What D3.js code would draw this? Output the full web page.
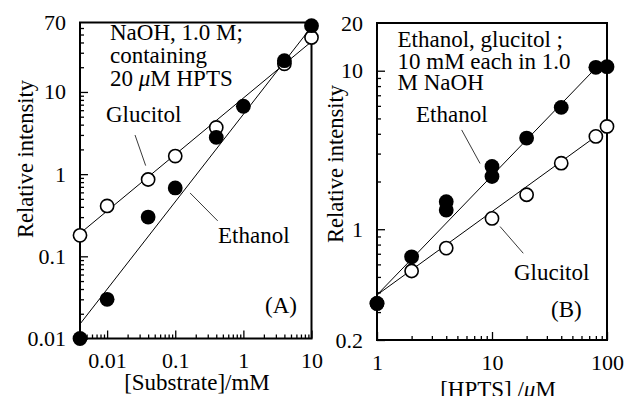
<!DOCTYPE html>
<html>
<head>
<meta charset="utf-8">
<script src="https://cdn.jsdelivr.net/npm/d3@7"></script>
<style>
  body { margin: 0; background: #fff; }
  svg { display: block; font-family: "Liberation Serif", "Times New Roman", serif; }
  .tick text { font-size: 22px; fill: #000; font-family: "Liberation Serif", "Times New Roman", serif; }
  .tick line { stroke: #000; stroke-width: 1.3; }
</style>
</head>
<body>
<svg id="chart" width="625" height="396"></svg>
<script>
// ---- data: panel A, intensity vs substrate (mM) ----
const aEthanolX = [0.004, 0.01, 0.04, 0.1, 0.4, 1, 4, 10];
const aEthanolY = [0.01, 0.03, 0.30, 0.68, 2.8, 6.7, 24, 64];
const aGlucitolX = [0.004, 0.01, 0.04, 0.1, 0.4, 4, 10];
const aGlucitolY = [0.18, 0.41, 0.86, 1.66, 3.7, 22, 46];
// fitted lines (end points)
const aEthanolFit = [[0.004, 0.015], [10, 62]];
const aGlucitolFit = [[0.004, 0.19], [10, 41]];

// ---- data: panel B, intensity vs HPTS (uM) ----
const bEthanolX = [1, 2, 4, 4, 10, 10, 20, 40, 80, 100];
const bEthanolY = [0.34, 0.67, 1.49, 1.32, 2.49, 2.15, 3.76, 5.87, 10.5, 10.6];
const bGlucitolX = [1, 2, 4, 10, 20, 40, 80, 100];
const bGlucitolY = [0.34, 0.545, 0.76, 1.17, 1.65, 2.61, 3.85, 4.45];
const bEthanolFit = [[1, 0.385], [80, 10.4]];
const bGlucitolFit = [[1, 0.385], [80, 3.85]];

// tick labels
const aXTicks = [0.01, 0.1, 1, 10];
const aYTicks = [0.01, 0.1, 1, 10, 70];
const bXTicks = [1, 10, 100];
const bYTicks = [0.2, 1, 10, 20];

// leader lines, in data units
const aGlucitolLeader = [[0.0257, 2.99], [0.0368, 1.27]];
const aEthanolLeader = [[0.165, 0.59], [0.42, 0.27]];
const bEthanolLeader = [[5.45, 4.23], [7.87, 2.60]];
const bGlucitolLeader = [[11.74, 1.04], [18.7, 0.705]];

const svg = d3.select("#chart");
const zip = (xs, ys) => xs.map((x, i) => [x, ys[i]]);

// minor ticks for a log domain: every 1..9 multiple of each decade
function minorTicks(domain, major) {
  const out = [];
  for (let e = Math.floor(Math.log10(domain[0])); e <= Math.ceil(Math.log10(domain[1])); e++) {
    for (let m = 1; m < 10; m++) {
      const v = m * Math.pow(10, e);
      if (v >= domain[0] * 0.999 && v <= domain[1] * 1.001 && !major.some(t => Math.abs(t - v) / v < 1e-6)) out.push(v);
    }
  }
  return out;
}

function fmt(v) { return String(+v.toPrecision(3)); }

// strip the axis defaults we don't want
function clean(s) {
  s.attr("font-family", null).attr("font-size", null);
  s.select(".domain").remove();
}

function drawPanel(p) {
  const g = svg.append("g");
  const x = p.x, y = p.y;
  const [x0, x1] = x.range(), [y0, y1] = y.range();

  // minor ticks
  g.append("g").attr("transform", `translate(0,${y0})`)
    .call(d3.axisBottom(x).tickValues(minorTicks(x.domain(), p.xTicks)).tickSizeInner(-4).tickSizeOuter(0).tickFormat(""))
    .call(clean);
  g.append("g").attr("transform", `translate(${x0},0)`)
    .call(d3.axisLeft(y).tickValues(minorTicks(y.domain(), p.yTicks)).tickSizeInner(-4).tickSizeOuter(0).tickFormat(""))
    .call(clean);
  // major ticks + labels
  g.append("g").attr("transform", `translate(0,${y0})`)
    .call(d3.axisBottom(x).tickValues(p.xTicks).tickSizeInner(-8).tickSizeOuter(0).tickPadding(14).tickFormat(fmt))
    .call(clean);
  g.append("g").attr("transform", `translate(${x0},0)`)
    .call(d3.axisLeft(y).tickValues(p.yTicks).tickSizeInner(-8).tickSizeOuter(0).tickPadding(14).tickFormat(fmt))
    .call(clean)
    .call(s => s.selectAll(".tick line").filter(d => d === y.domain()[1]).remove());

  // frame
  g.append("rect").attr("x", x0).attr("y", y1).attr("width", x1 - x0).attr("height", y0 - y1)
    .attr("fill", "none").attr("stroke", "#000").attr("stroke-width", 2);

  const line = d3.line().x(d => x(d[0])).y(d => y(d[1]));
  g.selectAll(".fit").data(p.fits).join("path").attr("class", "fit")
    .attr("d", line).attr("fill", "none").attr("stroke", "#000").attr("stroke-width", 1);
  g.selectAll(".leader").data(p.leaders).join("path").attr("class", "leader")
    .attr("d", line).attr("fill", "none").attr("stroke", "#222").attr("stroke-width", 0.9);

  g.selectAll(".open").data(p.open).join("circle").attr("class", "open")
    .attr("cx", d => x(d[0])).attr("cy", d => y(d[1])).attr("r", 6.6)
    .attr("fill", "#fff").attr("stroke", "#000").attr("stroke-width", 1.6);
  g.selectAll(".filled").data(p.filled).join("circle").attr("class", "filled")
    .attr("cx", d => x(d[0])).attr("cy", d => y(d[1])).attr("r", 7.4).attr("fill", "#000");

  // texts
  p.texts.forEach(t => {
    const el = g.append("text").attr("x", t.x).attr("y", t.y).attr("font-size", t.size || 23)
      .attr("text-anchor", t.anchor || "start");
    if (t.rotate) el.attr("transform", `rotate(-90,${t.x},${t.y})`);
    t.parts.forEach(part => {
      const ts = el.append("tspan").text(part.s || part);
      if (part.i) ts.attr("font-style", "italic");
    });
  });
}

drawPanel({
  x: d3.scaleLog().domain([0.004, 10]).range([80, 311.5]),
  y: d3.scaleLog().domain([0.01, 70]).range([338.5, 22.5]),
  xTicks: aXTicks, yTicks: aYTicks,
  fits: [aGlucitolFit, aEthanolFit],
  leaders: [aGlucitolLeader, aEthanolLeader],
  open: zip(aGlucitolX, aGlucitolY),
  filled: zip(aEthanolX, aEthanolY),
  texts: [
    { x: 110, y: 40, parts: ["NaOH, 1.0 M;"] },
    { x: 110, y: 63, parts: ["containing"] },
    { x: 110, y: 85.5, parts: ["20 ", { s: "\u03bc", i: true }, "M HPTS"] },
    { x: 106, y: 122, parts: ["Glucitol"] },
    { x: 218, y: 243, parts: ["Ethanol"] },
    { x: 265, y: 313, parts: ["(A)"] },
    { x: 197, y: 390, anchor: "middle", parts: ["[Substrate]/mM"] },
    { x: 33, y: 159, anchor: "middle", rotate: true, size: 22.5, parts: ["Relative intensity"] }
  ]
});

drawPanel({
  x: d3.scaleLog().domain([1, 100]).range([377, 607]),
  y: d3.scaleLog().domain([0.2, 20]).range([340, 23]),
  xTicks: bXTicks, yTicks: bYTicks,
  fits: [bGlucitolFit, bEthanolFit],
  leaders: [bEthanolLeader, bGlucitolLeader],
  open: zip(bGlucitolX, bGlucitolY),
  filled: zip(bEthanolX, bEthanolY),
  texts: [
    { x: 397.5, y: 46.5, parts: ["Ethanol, glucitol ;"] },
    { x: 397.5, y: 68.5, parts: ["10 mM each in 1.0"] },
    { x: 397.5, y: 90, parts: ["M NaOH"] },
    { x: 416, y: 122, parts: ["Ethanol"] },
    { x: 514, y: 280, parts: ["Glucitol"] },
    { x: 551, y: 317, parts: ["(B)"] },
    { x: 498, y: 397, anchor: "middle", parts: ["[HPTS] /", { s: "\u03bc", i: true }, "M"] },
    { x: 343, y: 164, anchor: "middle", rotate: true, size: 22.5, parts: ["Relative intensity"] }
  ]
});
</script>
</body>
</html>
